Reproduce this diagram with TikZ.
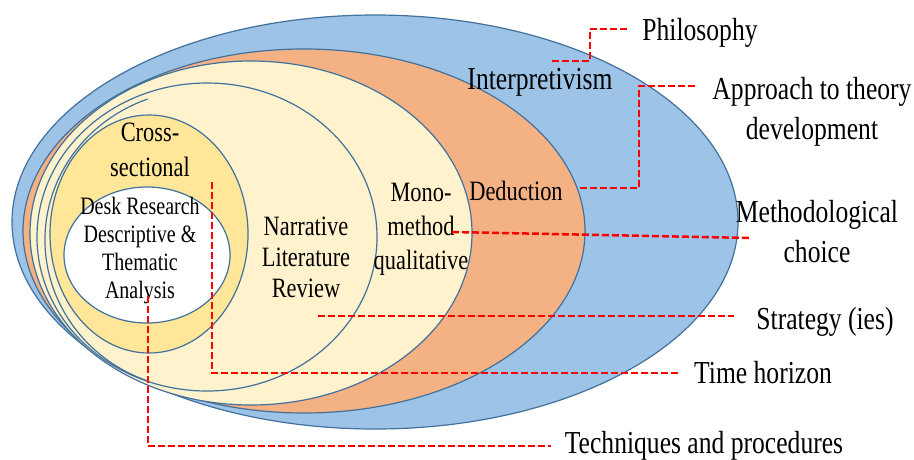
\documentclass[tikz,border=0pt]{standalone}
\usepackage{fontspec}
\setmainfont{Liberation Serif}[FakeStretch=0.8]

\definecolor{ringline}{RGB}{65,113,156}
\definecolor{ringblue}{RGB}{157,195,230}
\definecolor{ringorange}{RGB}{244,177,131}
\definecolor{ringcream}{RGB}{255,242,204}
\definecolor{ringyellow}{RGB}{255,230,153}

\begin{document}
\begin{tikzpicture}[x=1pt,y=-1pt]

      \useasboundingbox (0,0) rectangle (914,459);

      % the layers, outside in
      \begin{scope}[draw=ringline, line width=1.2pt]
        \filldraw[fill=ringblue]   (375,222) ellipse [x radius=363, y radius=207];
        \filldraw[fill=ringorange] (304,231) ellipse [x radius=281, y radius=182];
        \filldraw[fill=ringcream]  (251,233) ellipse [x radius=221, y radius=172];
        \filldraw[fill=ringcream]  (207,237) ellipse [x radius=170, y radius=154];
        \draw (201,240) ++(110:156 and 150) arc [start angle=110, end angle=250, x radius=156, y radius=150];
        \filldraw[fill=ringyellow] (149,234) ellipse [x radius=99, y radius=119];
        \filldraw[fill=white]      (147,255) ellipse [x radius=83, y radius=68];
      \end{scope}

      \begin{scope}[every node/.style={align=center, inner sep=0pt, font=\fontsize{28}{31}\selectfont}]
        \node[font=\fontsize{32}{36}\selectfont] (interp) at (540,82) {Interpretivism};
        \node (deduc)  at (516,191) {Deduction};
        \node[font=\fontsize{28}{34}\selectfont] (mono) at (421,229) {Mono-\\method\\qualitative};
        \node (narr)   at (306,257) {Narrative\\Literature\\Review};
        \node[font=\fontsize{28}{35}\selectfont] (cross) at (150,150) {Cross-\\sectional};
        \node[font=\fontsize{25}{28}\selectfont] (desk) at (140,251) {Desk Research\\Descriptive \&\\Thematic\\Analysis};
      \end{scope}

      \begin{scope}[every node/.style={align=center, inner sep=0pt, font=\fontsize{32}{40}\selectfont}]
        \node (phil)  at (700,33)  {Philosophy};
        \node (appr)  at (812,112) {Approach to theory\\development};
        \node (meth)  at (817,232) {Methodological\\choice};
        \node (strat) at (825,322) {Strategy (ies)};
        \node (time)  at (763,373) {Time horizon};
        \node (tech)  at (704,446) {Techniques and procedures};
      \end{scope}

      % where each dashed lead starts
      \coordinate (p0) at (552,61);
      \coordinate (a0) at (580,188);
      \coordinate (a1) at (698,86);
      \coordinate (m0) at (452,232);
      \coordinate (m1) at (751,238);
      \coordinate (s0) at (318,316);
      \coordinate (t0) at (212,182);
      \coordinate (q0) at (148,296);

      \begin{scope}[draw=red, line width=2.5pt, dash pattern=on 7pt off 3pt]
        \draw (p0) -- ++(38,0) |- ([yshift=4pt]phil.west) [shorten >=13pt];
        \draw (a0) -- ++(59,0) |- (a1);
        \draw (m0) -- (m1);
        \draw[shorten >=22pt] (s0) -- (s0 -| strat.west);
        \draw[shorten >=15pt] (t0) |- (time.west);
        \draw[shorten >=14pt] (q0) |- (tech.west);
      \end{scope}

    \end{tikzpicture}
\end{document}
